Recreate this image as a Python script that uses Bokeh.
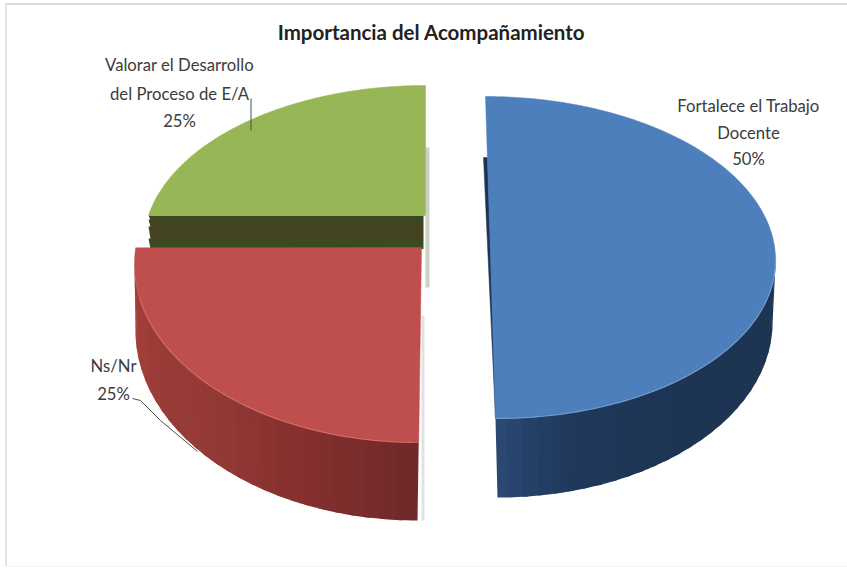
import numpy as np
from bokeh.plotting import figure
from bokeh.models import Range1d
from bokeh.core.properties import value
from bokeh.embed import file_html
from bokeh.resources import INLINE

TITLE = "Importancia del Acompañamiento"
categories = ["Fortalece el Trabajo Docente", "Ns/Nr", "Valorar el Desarrollo del Proceso de E/A"]
values = [50, 25, 25]
top_colors = ["#4d7fbc", "#bf4f4c", "#97b655"]
label_lines = [["Fortalece el Trabajo", "Docente"], ["Ns/Nr"], ["Valorar el Desarrollo", "del Proceso de E/A"]]

FONT = "Lato"
TEXT = "#3c3c3c"

p = figure(width=847, height=571, x_range=Range1d(0, 847), y_range=Range1d(571, 0),
           toolbar_location=None, output_backend="svg", min_border=0,
           x_axis_location=None, y_axis_location=None, background_fill_color="white",
           border_fill_color="white", outline_line_color=None)
p.grid.visible = False

# frame
p.line([5.5, 5.5], [3, 566], line_color="#dcdcdc", line_width=1.5)
p.line([5, 847], [3.5, 3.5], line_color="#cfcfcf", line_width=1.5)
p.line([5, 847], [566, 566], line_color="#f4f4f4", line_width=1)

# slice angles come from the values (clockwise from twelve o'clock)
fr = np.cumsum([0] + values) / sum(values) * 2 * np.pi


def ell(geom, th):
    cx, cy, rx, ry, shear = geom
    y = -ry * np.cos(th)
    return cx + rx * np.sin(th) + shear * y, cy + y


def hex2rgb(h):
    return np.array([int(h[i:i + 2], 16) for i in (1, 3, 5)], float)


def ramp(stops, t):
    pos = np.linspace(0, 1, len(stops))
    cols = np.array([hex2rgb(s) for s in stops])
    rgb = [np.interp(t, pos, cols[:, k]) for k in range(3)]
    return "#%02x%02x%02x" % tuple(int(round(c)) for c in rgb)


def side(a0, a1, top, bot, stops, n=28):
    xs, ys, cs = [], [], []
    edges = np.linspace(a0, a1, n + 1)
    for i in range(n):
        th = np.linspace(edges[i], min(edges[i + 1] + 0.02, a1), 5)
        xt, yt = ell(top, th)
        xb, yb = ell(bot, th)
        xs.append(list(xt) + list(xb[::-1]))
        ys.append(list(yt) + list(yb[::-1]))
        cs.append(ramp(stops, i / (n - 1)))
    p.patches(xs[::-1], ys[::-1], fill_color=cs[::-1], line_color=None)


def face(a0, a1, geom, color, corner=None, keep=None, rim=None, rim_range=None):
    th = np.linspace(a0, a1, 240)
    x, y = ell(geom, th)
    if keep is not None:
        m = keep(y)
        x, y = x[m], y[m]
    cx, cy = corner if corner else (geom[0], geom[1])
    p.patch(list(x) + [cx], list(y) + [cy], fill_color=color, line_color=color, line_width=0.5)
    if rim:
        t2 = np.linspace(*rim_range, 90)
        xr, yr = ell(geom, t2)
        p.line(xr, yr, line_color=rim, line_width=1.2, line_alpha=0.8)


# ---- blue slice
blue_top = (490, 257, 285, 161, 0.031)
blue_bot = (497, 322, 275, 175, 0.0)
side(fr[0] + np.pi / 2, fr[1], blue_top, blue_bot,
     ["#1c3656", "#1d3553", "#1d3553", "#1d3553", "#1e3656", "#20395b", "#2a4872"])
p.patch([483, 487, 496, 495], [157, 157, 418, 418], fill_color="#1c3353", line_color="#1c3353", line_width=0.5)
face(fr[0], fr[1], blue_top, top_colors[0], rim="#78a0d2", rim_range=(fr[0] + np.pi / 2, fr[1]))

# ---- green slice (the ellipse is cut flat along its lower edge)
green_top = (425, 245, 282, 160, 0.0)
p.patch([425, 429, 429, 425], [147, 147, 287, 287], fill_color="#cdd0c6", line_color=None)
for y0, y1, c in [(215, 219, "#39481f"), (219, 226, "#3f4620"), (226, 238, "#44421f"), (238, 248, "#3b4a20")]:
    p.patch([148, 423, 423, 150], [y0, y0, y1 + 0.5, y1 + 0.5], fill_color=c, line_color=None)
face(fr[2], fr[3], green_top, top_colors[2], corner=(425, 215), keep=lambda y: y <= 215)

# ---- red slice (cut flat along its upper edge)
red_top = (421, 262, 287, 180, -0.0155)
red_bot = (417, 330, 282, 190, 0.0)
p.patch([421, 424, 424, 421], [315, 315, 520, 520], fill_color="#e2e2e2", line_color=None)
side(fr[1], fr[2], red_top, red_bot, ["#72292a", "#86302f", "#933a36", "#9a3c38", "#a8403c"])
face(fr[1], fr[2] + 0.2, red_top, top_colors[1], corner=(421, 247), keep=lambda y: y >= 247,
     rim="#d6716c", rim_range=(fr[1] + 0.02, fr[2] - 0.2))

# ---- leader lines
p.line([250.5, 250.5], [98, 130], line_color="#46524a", line_width=1)
p.line([132, 140, 160, 197], [398, 400, 420, 451], line_color="#46524a", line_width=1)

# ---- texts
pct = [f"{round(v * 100 / sum(values))}%" for v in values]
xs = [748, 748, 748, 113, 113, 179, 179, 179]
ys = [105, 132, 158, 365, 393, 64, 93, 120]
txt = label_lines[0] + [pct[0]] + label_lines[1] + [pct[1]] + label_lines[2] + [pct[2]]
p.text(xs, ys, text=txt, text_font=value(FONT), text_font_size="16.7px", text_color=TEXT,
       text_align="center", text_baseline="middle")
p.text([431], [31], text=[TITLE], text_font=value(FONT), text_font_size="20.5px", text_font_style="bold",
       text_color="#222222", text_align="center", text_baseline="middle")

open("out.html", "w").write(file_html(p, INLINE))
